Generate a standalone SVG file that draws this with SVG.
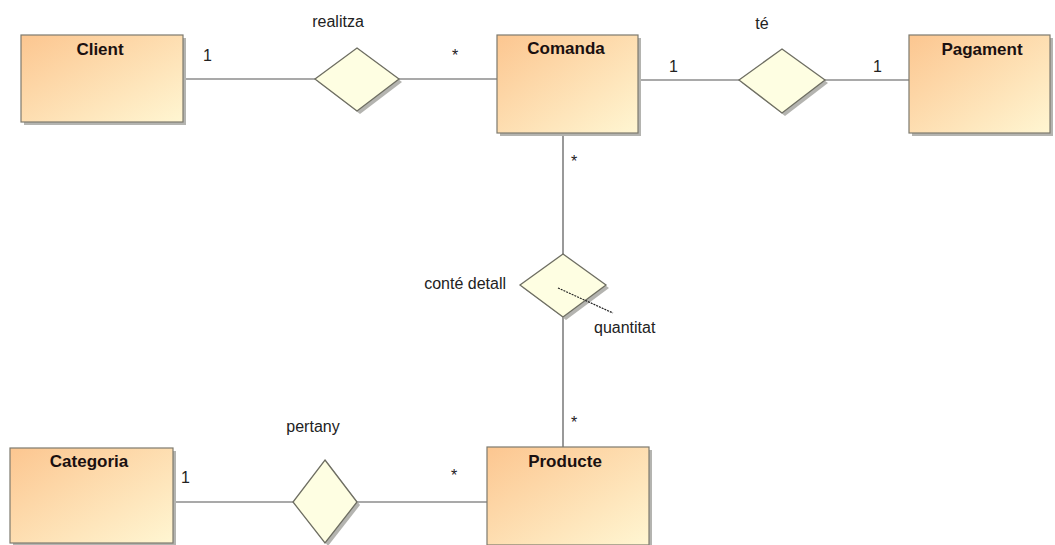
<svg xmlns="http://www.w3.org/2000/svg" width="1055" height="545" viewBox="0 0 1055 545">
<defs>
<linearGradient id="boxg" x1="0" y1="0" x2="1" y2="1">
<stop offset="0" stop-color="#fcc690"/>
<stop offset="1" stop-color="#fff6d2"/>
</linearGradient>
<style>
.box{fill:url(#boxg);stroke:#7d7a6e;stroke-width:1.2}
.shadow{fill:#b4b4b0}
.dia{fill:#fefee2;stroke:#6e6e62;stroke-width:1.3}
.line{stroke:#555;stroke-width:1.2;fill:none}
.title{font-family:"Liberation Sans",Arial,sans-serif;font-weight:bold;font-size:17px;fill:#1a1010;text-anchor:middle}
.lbl{font-family:"Liberation Sans",Arial,sans-serif;font-size:16px;fill:#222}
.mid{text-anchor:middle}
</style>
</defs>
<rect width="1055" height="545" fill="#fff"/>
<g id="connectors">
<line class="line" x1="183" y1="79" x2="315" y2="79"/>
<line class="line" x1="399" y1="79" x2="497" y2="79"/>
<line class="line" x1="638" y1="80" x2="739" y2="80"/>
<line class="line" x1="825" y1="80" x2="909" y2="80"/>
<line class="line" x1="563" y1="133" x2="563" y2="254"/>
<line class="line" x1="563" y1="317" x2="563" y2="447"/>
<line class="line" x1="173" y1="502" x2="293" y2="502"/>
<line class="line" x1="357" y1="502" x2="487" y2="502"/>
<text class="lbl" x="203" y="61">1</text>
<text class="lbl" x="452" y="61">*</text>
<text class="lbl" x="669" y="72">1</text>
<text class="lbl" x="873" y="72">1</text>
<text class="lbl" x="571" y="167">*</text>
<text class="lbl" x="571" y="428">*</text>
<text class="lbl" x="451" y="481">*</text>
<text class="lbl" x="181" y="483">1</text>
</g>
<g id="client">
<rect class="shadow" x="24" y="38" width="162" height="87"/>
<rect class="box" x="21" y="35" width="162" height="87"/>
<text class="title" x="100" y="55">Client</text>
</g>
<g id="comanda">
<rect class="shadow" x="500" y="38" width="141" height="98"/>
<rect class="box" x="497" y="35" width="141" height="98"/>
<text class="title" x="566" y="54">Comanda</text>
</g>
<g id="pagament">
<rect class="shadow" x="912" y="38" width="141" height="98"/>
<rect class="box" x="909" y="35" width="141" height="98"/>
<text class="title" x="982" y="55">Pagament</text>
</g>
<g id="categoria">
<rect class="shadow" x="13" y="451" width="163" height="95"/>
<rect class="box" x="10" y="448" width="163" height="95"/>
<text class="title" x="89" y="467">Categoria</text>
</g>
<g id="producte">
<rect class="shadow" x="490" y="450" width="162" height="96"/>
<rect class="box" x="487" y="447" width="162" height="98"/>
<text class="title" x="565" y="467">Producte</text>
</g>
<g id="realitza">
<polygon class="shadow" points="360,51 402,82 360,114 318,82"/>
<polygon class="dia" points="357,48 399,79 357,111 315,79"/>
<text class="lbl mid" x="338" y="27">realitza</text>
</g>
<g id="te">
<polygon class="shadow" points="785,52 828,83 785,116 742,83"/>
<polygon class="dia" points="782,49 825,80 782,113 739,80"/>
<text class="lbl mid" x="762" y="29">té</text>
</g>
<g id="conte-detall">
<polygon class="shadow" points="566,257 609,288 566,320 523,288"/>
<polygon class="dia" points="563,254 606,285 563,317 520,285"/>
<line x1="558" y1="288" x2="613" y2="313" stroke="#222" stroke-width="1.2" stroke-dasharray="2,1"/>
<text class="lbl" x="506" y="289" text-anchor="end">conté detall</text>
<text class="lbl" x="594" y="333">quantitat</text>
</g>
<g id="pertany">
<polygon class="shadow" points="328,463 360,505 328,546 296,505"/>
<polygon class="dia" points="325,460 357,502 325,543 293,502"/>
<text class="lbl mid" x="313" y="432">pertany</text>
</g>
</svg>
